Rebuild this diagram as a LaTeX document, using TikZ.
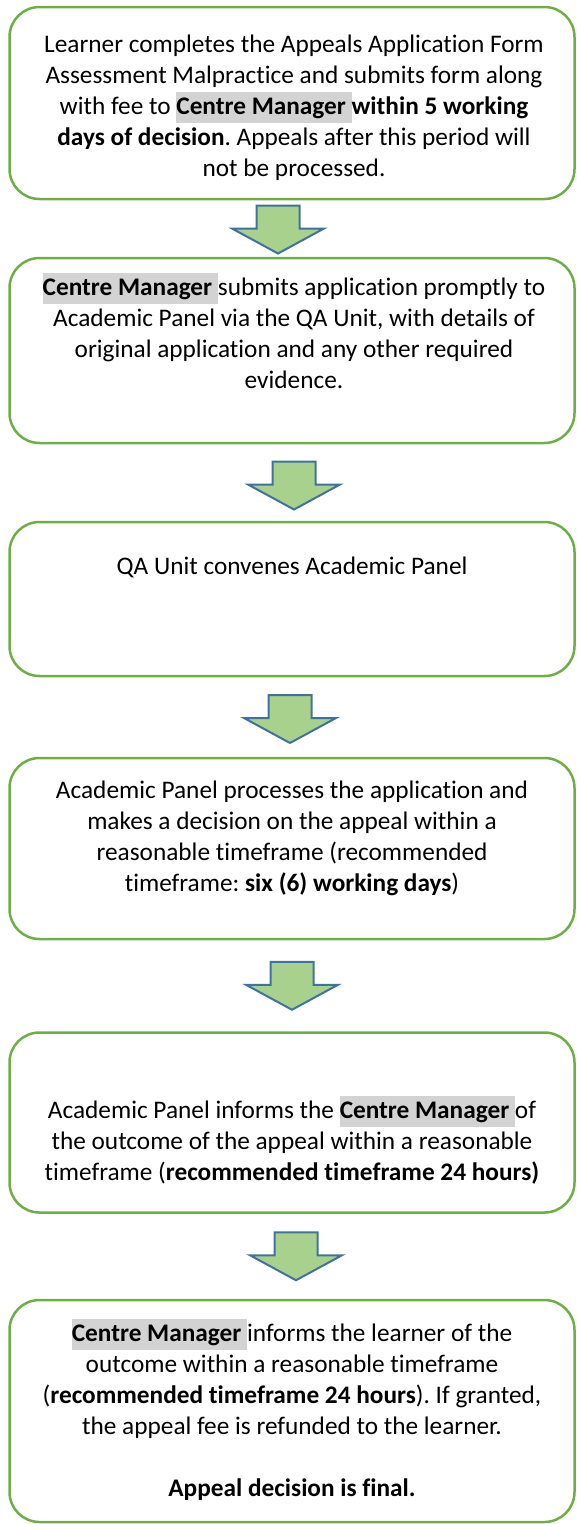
\documentclass[tikz,border=0pt]{standalone}
\usepackage{fontspec}
\setmainfont{Carlito}[Ligatures=CommonOff]
\usetikzlibrary{calc}
\definecolor{boxgreen}{HTML}{70AD47}
\definecolor{arrowfill}{HTML}{A9D18E}
\definecolor{arrowline}{HTML}{41719C}
\definecolor{hlgray}{HTML}{D3D3D3}
\frenchspacing
% bold role name on a grey highlight band
\newcommand\hlname[1]{{\setlength{\fboxsep}{0pt}\colorbox{hlgray}{\strut\textbf{#1}}}}
\tikzset{
  stepbox/.style={draw=boxgreen, line width=2.5pt, rounded corners=30pt,
    minimum width=565pt, inner sep=0pt},
  steptext/.style={anchor=base, inner sep=0pt,
    font=\fontsize{25.3}{31}\selectfont},
  downarrow/.pic={
    \draw[arrowline, fill=arrowfill, line width=2pt, line join=miter]
      (-21.5,-24) -- (21.5,-24) -- (21.5,-1) -- (46,-1) -- (0,24)
      -- (-46,-1) -- (-21.5,-1) -- cycle;
  }
}
\newcommand\steplines[1]{\begin{tabular}[t]{@{}c@{}}#1\end{tabular}}
\begin{document}
\begin{tikzpicture}[x=1pt,y=-1pt]
\useasboundingbox (0,0) rectangle (576,1524);

% the six steps
\node[stepbox, minimum height=192pt] (b1) at (292,103) {};
\node[stepbox, minimum height=185pt] (b2) at (292,350.5) {};
\node[stepbox, minimum height=154pt] (b3) at (292,599) {};
\node[stepbox, minimum height=181pt] (b4) at (292,848.5) {};
\node[stepbox, minimum height=180pt] (b5) at (292,1122.5) {};
\node[stepbox, minimum height=222pt] (b6) at (292,1411) {};

\node[steptext] (t1) at (294,52) {\steplines{%
Learner completes the Appeals Application Form\\
Assessment Malpractice and submits form along\\
with fee to \hlname{Centre Manager }\textbf{within 5 working}\\
\textbf{days of decision}. Appeals after this period will\\
not be processed.}};

\node[steptext] (t2) at (294,295) {\steplines{%
\hlname{Centre Manager }submits application promptly to\\
Academic Panel via the QA Unit, with details of\\
original application and any other required\\
evidence.}};

\node[steptext] (t3) at (292,574) {\steplines{QA Unit convenes Academic Panel}};

\node[steptext] (t4) at (292,798) {\steplines{%
Academic Panel processes the application and\\
makes a decision on the appeal within a\\
reasonable timeframe (recommended\\
timeframe: \textbf{six (6) working days})}};

\node[steptext] (t5) at (292,1118) {\steplines{%
Academic Panel informs the \hlname{Centre Manager }of\\
the outcome of the appeal within a reasonable\\
timeframe (\textbf{recommended timeframe 24 hours)}}};

\node[steptext] (t6) at (292,1341) {\steplines{%
\hlname{Centre Manager }informs the learner of the\\
outcome within a reasonable timeframe\\
(\textbf{recommended timeframe 24 hours}). If granted,\\
the appeal fee is refunded to the learner.\\
\\
\textbf{Appeal decision is final.}}};

% block arrows between consecutive steps
\pic at ($(b1.south)!0.5!(b2.north)+(-14,1)$) {downarrow};
\pic at ($(b2.south)!0.5!(b3.north)+(2,3)$) {downarrow};
\pic at ($(b3.south)!0.5!(b4.north)+(-2,2)$) {downarrow};
\pic at ($(b4.south)!0.5!(b5.north)+(0,0)$) {downarrow};
\pic at ($(b5.south)!0.5!(b6.north)+(4,0)$) {downarrow};
\end{tikzpicture}
\end{document}
